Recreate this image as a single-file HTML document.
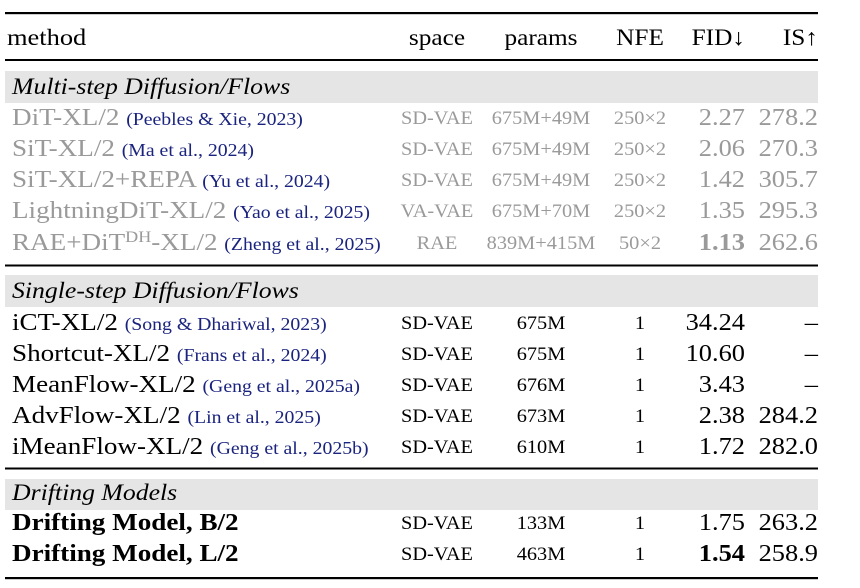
<!DOCTYPE html>
<html><head><style>
body{margin:0;background:#fff;}
svg{display:block;font-family:"Liberation Serif",serif;}
.g{fill:#9a9a9a}
.c{fill:#1a237e;font-size:17.5px}
</style></head><body>
<svg width="860" height="588" xmlns="http://www.w3.org/2000/svg">
<rect x="5" y="12" width="813" height="2.2" fill="#000"/>
<rect x="5" y="59" width="813" height="2" fill="#000"/>
<rect x="5" y="71" width="813" height="32" fill="#e5e5e5"/>
<rect x="5" y="264.5" width="813" height="2" fill="#000"/>
<rect x="5" y="275" width="813" height="32" fill="#e5e5e5"/>
<rect x="5" y="467.5" width="813" height="2" fill="#000"/>
<rect x="5" y="479" width="813" height="31" fill="#e5e5e5"/>
<rect x="5" y="577" width="813" height="2.2" fill="#000"/>

<g font-size="23">
<g transform="translate(7,0) scale(1.15,1)"><text x="0" y="45">method</text></g>
<g transform="translate(437,0) scale(1.1,1)"><text x="0" y="45" text-anchor="middle">space</text></g>
<g transform="translate(541,0) scale(1.1,1)"><text x="0" y="45" text-anchor="middle">params</text></g>
<g transform="translate(640,0) scale(1.1,1)"><text x="0" y="45" text-anchor="middle">NFE</text></g>
<g transform="translate(745,0) scale(1.1,1)"><text x="0" y="45" text-anchor="end">FID↓</text></g>
<g transform="translate(818,0) scale(1.1,1)"><text x="0" y="45" text-anchor="end">IS↑</text></g>
<g transform="translate(12,0) scale(1.12,1)">
<text x="0" y="94" font-style="italic">Multi-step Diffusion/Flows</text>
<text x="0" y="298" font-style="italic">Single-step Diffusion/Flows</text>
<text x="0" y="500" font-style="italic">Drifting Models</text>
</g>
</g>

<g transform="translate(12,0) scale(1.13,1)">
<g font-size="24" class="g">
<text x="0" y="125">DiT-XL/2 <tspan class="c">(Peebles &amp; Xie, 2023)</tspan></text>
<text x="0" y="156">SiT-XL/2 <tspan class="c">(Ma et al., 2024)</tspan></text>
<text x="0" y="187">SiT-XL/2+REPA <tspan class="c">(Yu et al., 2024)</tspan></text>
<text x="0" y="218">LightningDiT-XL/2 <tspan class="c">(Yao et al., 2025)</tspan></text>
<text x="0" y="250">RAE+DiT<tspan font-size="16" dy="-8">DH</tspan><tspan dy="8">-XL/2 </tspan><tspan class="c">(Zheng et al., 2025)</tspan></text>
</g>
<g font-size="24">
<text x="0" y="330">iCT-XL/2 <tspan class="c">(Song &amp; Dhariwal, 2023)</tspan></text>
<text x="0" y="361">Shortcut-XL/2 <tspan class="c">(Frans et al., 2024)</tspan></text>
<text x="0" y="392">MeanFlow-XL/2 <tspan class="c">(Geng et al., 2025a)</tspan></text>
<text x="0" y="423">AdvFlow-XL/2 <tspan class="c">(Lin et al., 2025)</tspan></text>
<text x="0" y="454">iMeanFlow-XL/2 <tspan class="c">(Geng et al., 2025b)</tspan></text>
<text x="0" y="530" font-weight="bold">Drifting Model, B/2</text>
<text x="0" y="561" font-weight="bold">Drifting Model, L/2</text>
</g>
</g>

<g font-size="18.5" text-anchor="middle">
<g transform="translate(437,0) scale(1.1,1)">
<g class="g"><text x="0" y="124">SD-VAE</text><text x="0" y="155">SD-VAE</text><text x="0" y="186">SD-VAE</text><text x="0" y="217">VA-VAE</text><text x="0" y="249">RAE</text></g>
<text x="0" y="329">SD-VAE</text><text x="0" y="360">SD-VAE</text><text x="0" y="391">SD-VAE</text><text x="0" y="422">SD-VAE</text><text x="0" y="453">SD-VAE</text><text x="0" y="529">SD-VAE</text><text x="0" y="560">SD-VAE</text>
</g>
<g transform="translate(541,0) scale(1.1,1)">
<g class="g"><text x="0" y="124">675M+49M</text><text x="0" y="155">675M+49M</text><text x="0" y="186">675M+49M</text><text x="0" y="217">675M+70M</text><text x="0" y="249">839M+415M</text></g>
<text x="0" y="329">675M</text><text x="0" y="360">675M</text><text x="0" y="391">676M</text><text x="0" y="422">673M</text><text x="0" y="453">610M</text><text x="0" y="529">133M</text><text x="0" y="560">463M</text>
</g>
<g transform="translate(640,0) scale(1.1,1)">
<g class="g"><text x="0" y="124">250×2</text><text x="0" y="155">250×2</text><text x="0" y="186">250×2</text><text x="0" y="217">250×2</text><text x="0" y="249">50×2</text></g>
<text x="0" y="329">1</text><text x="0" y="360">1</text><text x="0" y="391">1</text><text x="0" y="422">1</text><text x="0" y="453">1</text><text x="0" y="529">1</text><text x="0" y="560">1</text>
</g>
</g>

<g font-size="24" text-anchor="end">
<g transform="translate(745,0) scale(1.1,1)">
<g class="g"><text x="0" y="125">2.27</text><text x="0" y="156">2.06</text><text x="0" y="187">1.42</text><text x="0" y="218">1.35</text><text x="0" y="250" font-weight="bold">1.13</text></g>
<text x="0" y="330">34.24</text><text x="0" y="361">10.60</text><text x="0" y="392">3.43</text><text x="0" y="423">2.38</text><text x="0" y="454">1.72</text><text x="0" y="530">1.75</text><text x="0" y="561" font-weight="bold">1.54</text>
</g>
<g transform="translate(818,0) scale(1.1,1)">
<g class="g"><text x="0" y="125">278.2</text><text x="0" y="156">270.3</text><text x="0" y="187">305.7</text><text x="0" y="218">295.3</text><text x="0" y="250">262.6</text></g>
<text x="0" y="330">–</text><text x="0" y="361">–</text><text x="0" y="392">–</text><text x="0" y="423">284.2</text><text x="0" y="454">282.0</text><text x="0" y="530">263.2</text><text x="0" y="561">258.9</text>
</g>
</g>
</svg>
</body></html>
